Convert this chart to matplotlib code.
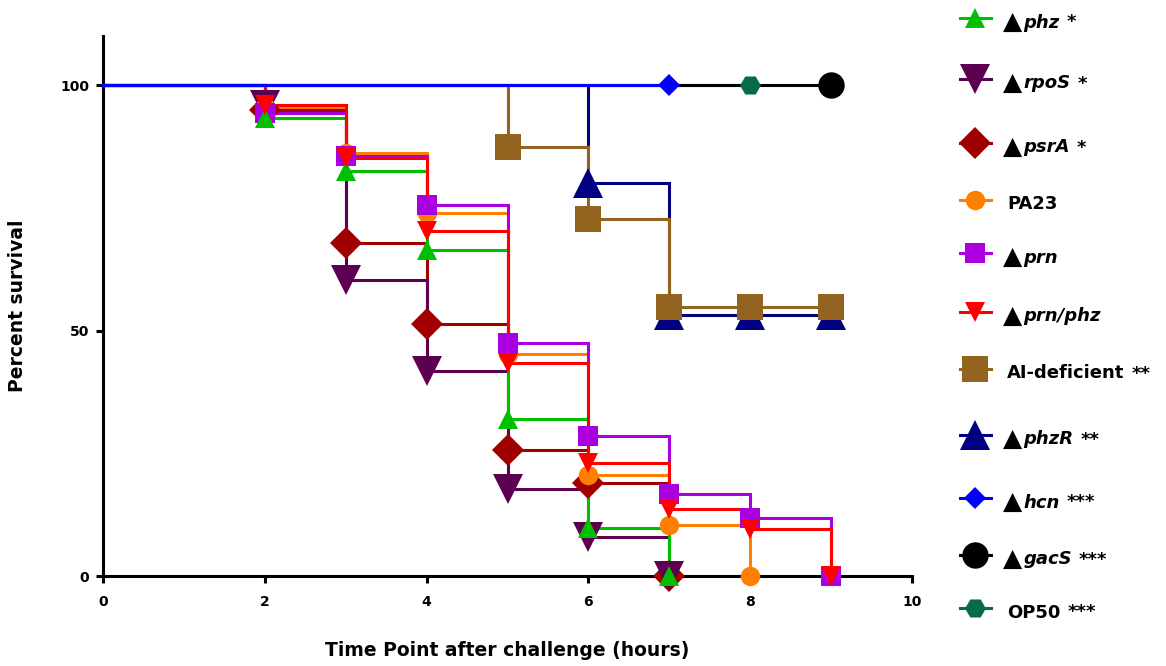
import matplotlib
matplotlib.use("Agg")
import matplotlib.pyplot as plt
from matplotlib.lines import Line2D

plt.rcParams["font.family"] = ["DejaVu Sans"]
plt.rcParams["font.weight"] = "bold"
plt.rcParams["axes.labelweight"] = "bold"

# Kaplan-Meier survival per strain (time in hours, percent surviving)
PhzTimes = [0, 2, 3, 4, 5, 6, 7]
PhzSurvival = [100, 93.3, 82.5, 66.5, 32.0, 9.8, 0]

RpoSTimes = [0, 2, 3, 4, 5, 6, 7]
RpoSSurvival = [100, 96.0, 60.3, 41.8, 17.7, 8.0, 0]

PsrATimes = [0, 2, 3, 4, 5, 6, 7]
PsrASurvival = [100, 95.0, 67.9, 51.3, 25.7, 18.9, 0]

PA23Times = [0, 2, 3, 4, 5, 6, 7, 8]
PA23Survival = [100, 95.5, 86.2, 73.9, 45.2, 20.6, 10.4, 0]

PrnTimes = [0, 2, 3, 4, 5, 6, 7, 8, 9]
PrnSurvival = [100, 94.4, 85.5, 75.6, 47.4, 28.5, 16.7, 11.9, 0]

PrnPhzTimes = [0, 2, 3, 4, 5, 6, 7, 8, 9]
PrnPhzSurvival = [100, 95.9, 85.1, 70.2, 43.3, 23.0, 13.6, 9.5, 0]

AITimes = [0, 5, 6, 7, 8, 9]
AISurvival = [100, 87.3, 72.8, 54.7, 54.7, 54.7]

PhzRTimes = [0, 6, 7, 8, 9]
PhzRSurvival = [100, 80.0, 53.2, 53.2, 53.2]

HcnTimes = [0, 7]
HcnSurvival = [100, 100]

GacSTimes = [0, 9]
GacSSurvival = [100, 100]

OP50Times = [0, 8]
OP50Survival = [100, 100]

StrainNames = ["phz", "rpoS", "psrA", "PA23", "prn", "prn/phz",
               "AI-deficient", "phzR", "hcn", "gacS", "OP50"]
Significance = ["*", "*", "*", "", "", "", "**", "**", "***", "***", "***"]
IsDeletion = [True, True, True, False, True, True, False, True, True, True, False]

SeriesData = {
    "phz": (PhzTimes, PhzSurvival),
    "rpoS": (RpoSTimes, RpoSSurvival),
    "psrA": (PsrATimes, PsrASurvival),
    "PA23": (PA23Times, PA23Survival),
    "prn": (PrnTimes, PrnSurvival),
    "prn/phz": (PrnPhzTimes, PrnPhzSurvival),
    "AI-deficient": (AITimes, AISurvival),
    "phzR": (PhzRTimes, PhzRSurvival),
    "hcn": (HcnTimes, HcnSurvival),
    "gacS": (GacSTimes, GacSSurvival),
    "OP50": (OP50Times, OP50Survival),
}

# colour, marker, marker size, draw order
Styles = {
    "phz": ("#00BF00", "^", 14, 7),
    "rpoS": ("#5E0052", "v", 21, 4),
    "psrA": ("#A00000", "D", 16, 3),
    "PA23": ("#FF8000", "o", 14, 5),
    "prn": ("#AA00E0", "s", 14, 6),
    "prn/phz": ("#FF0000", "v", 14, 8),
    "AI-deficient": ("#936320", "s", 19, 2),
    "phzR": ("#000080", "^", 21, 1),
    "hcn": ("#0000FF", "D", 11, 11),
    "gacS": ("#000000", "o", 19, 10),
    "OP50": ("#076B45", "H", 15, 9),
}

FigW, FigH = 1166, 666
LineWidth = 2.2

Fig = plt.figure(figsize=(FigW / 100, FigH / 100), dpi=100)
Ax = Fig.add_axes([103 / FigW, 1 - 576 / FigH, 809 / FigW, 540 / FigH])

for Name in StrainNames:
    Times, Survival = SeriesData[Name]
    Color, Marker, Size, Order = Styles[Name]
    # step line first, symbols drawn above every line
    Ax.plot(Times, Survival, drawstyle="steps-post", color=Color, lw=LineWidth,
            solid_joinstyle="miter", zorder=2 + Order, clip_on=False)
    Ax.plot(Times[1:], Survival[1:], ls="none", marker=Marker, ms=Size,
            color=Color, mec=Color, mew=0, zorder=20 + Order, clip_on=False)

Ax.set_xlim(0, 10)
Ax.set_ylim(0, 110)
Ax.set_xticks([0, 2, 4, 6, 8, 10])
Ax.set_yticks([0, 50, 100])
for Side in ["top", "right"]:
    Ax.spines[Side].set_visible(False)
for Side in ["left", "bottom"]:
    Ax.spines[Side].set_linewidth(LineWidth)
Ax.tick_params(axis="both", direction="out", length=5, width=LineWidth, labelsize=10)
Ax.tick_params(axis="x", pad=9)
Ax.tick_params(axis="y", pad=5)

Ax.set_xlabel("Time Point after challenge (hours)", fontsize=13.5, va="center")
Ax.xaxis.set_label_coords(0.5, (576 - 651) / 540)
Ax.set_ylabel("Percent survival", fontsize=13.5, va="center")
Ax.yaxis.set_label_coords((18 - 103) / 809, (576 - 306) / 540)

# Legend drawn by hand so the deletion symbol and italic gene names can mix
RowY = [18, 79, 143, 200, 253, 312, 369, 435, 498, 555, 608]
Renderer = Fig.canvas.get_renderer()


def PlaceText(X, Y, Text, **Kwargs):
    T = Fig.text(X / FigW, 1 - Y / FigH, Text, va="baseline", ha="left", **Kwargs)
    return X + T.get_window_extent(Renderer).width


for Index, Name in enumerate(StrainNames):
    Color, Marker, Size, Order = Styles[Name]
    Y = RowY[Index]
    Fig.add_artist(Line2D([960 / FigW, 991 / FigW], [1 - Y / FigH] * 2,
                          transform=Fig.transFigure, color=Color, lw=LineWidth))
    Fig.add_artist(Line2D([975 / FigW], [1 - Y / FigH], transform=Fig.transFigure,
                          ls="none", marker=Marker, ms=Size, color=Color, mew=0))
    Baseline = Y + 9.5
    if IsDeletion[Index]:
        X = PlaceText(1003, Baseline + 1, "▲", fontsize=18, color="black")
        X = PlaceText(X + 1, Baseline, Name, fontsize=13, style="italic")
    else:
        X = PlaceText(1007, Baseline, Name, fontsize=13)
    if Significance[Index]:
        PlaceText(X + 7, Baseline, Significance[Index], fontsize=13)

Fig.savefig("out.png", dpi=100)
